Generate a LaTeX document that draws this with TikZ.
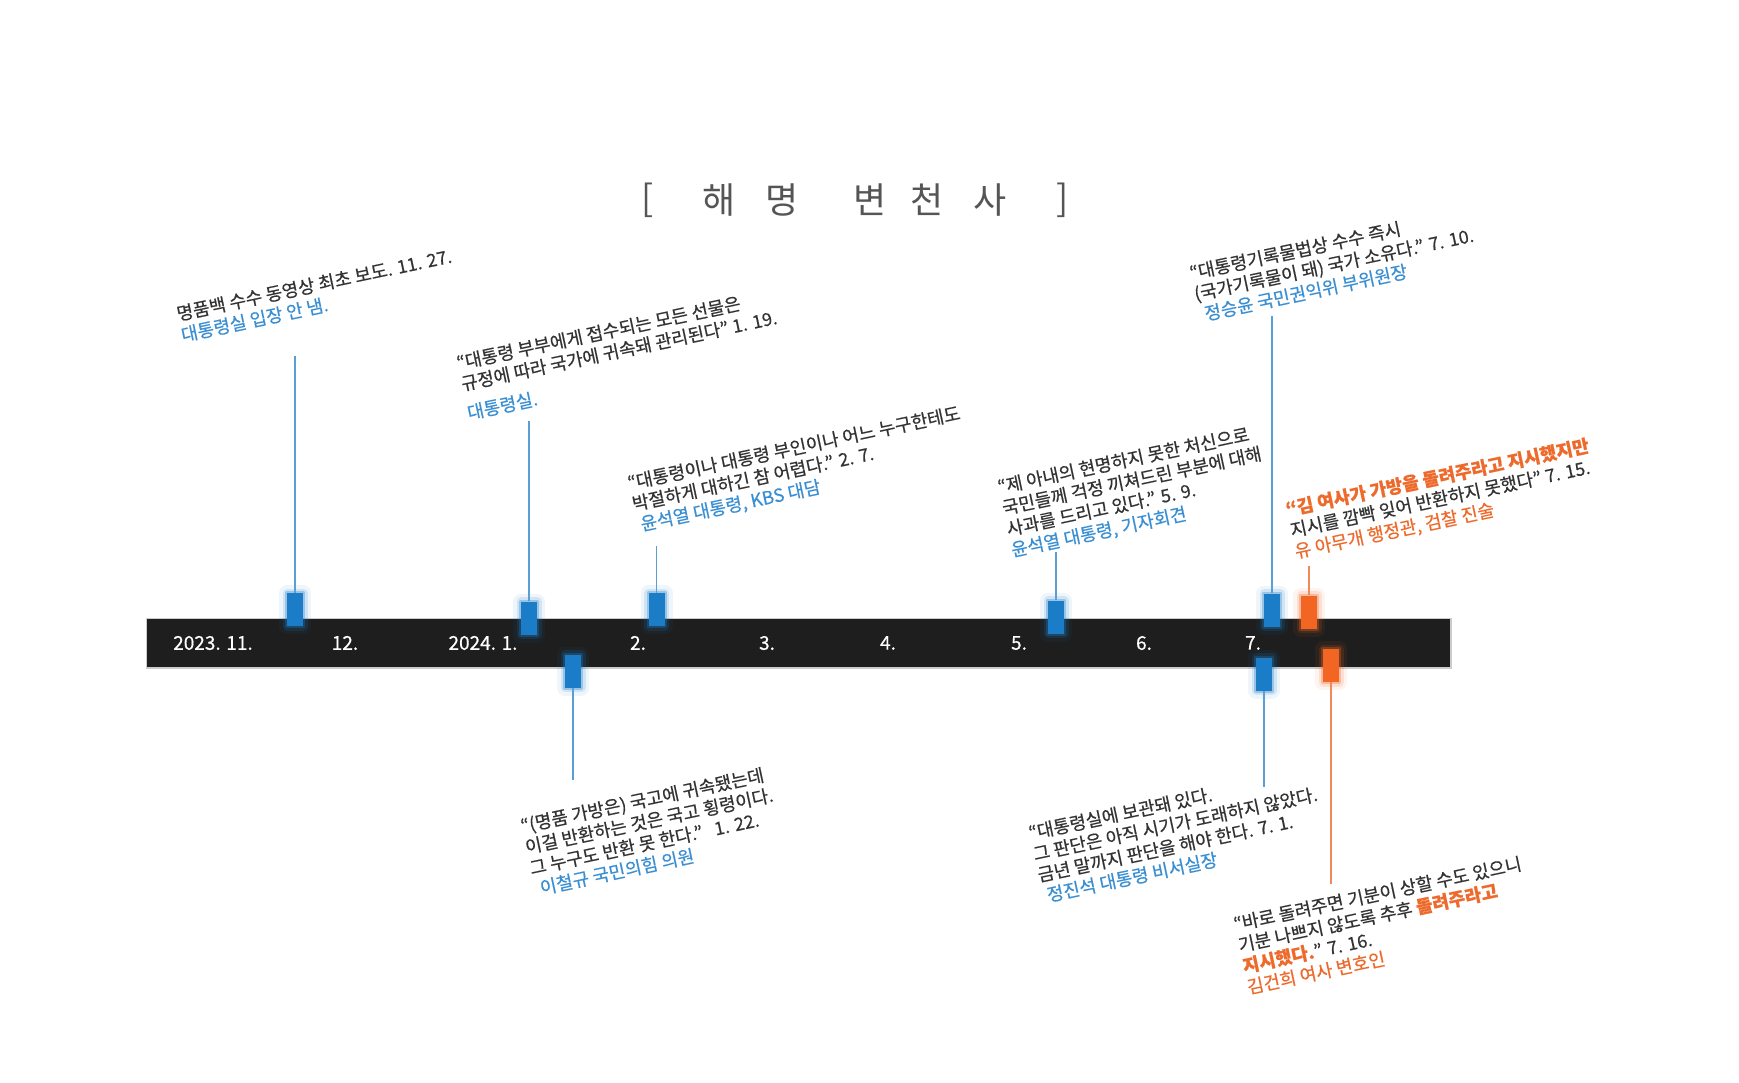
\documentclass[tikz,border=0pt]{standalone}
\usepackage{fontspec}
\setmainfont{Noto Sans CJK KR}
\newfontfamily\medfont{Noto Sans CJK KR}[FakeBold=0.5]
\usetikzlibrary{calc}

\definecolor{ink}{HTML}{333333}
\definecolor{titlegray}{HTML}{555555}
\definecolor{mblue}{HTML}{1B7DC7}
\definecolor{sblue}{HTML}{5A9ED6}
\definecolor{tblue}{HTML}{3A8FD2}
\definecolor{morange}{HTML}{F26522}
\definecolor{sorange}{HTML}{F08A5A}
\definecolor{torange}{HTML}{EE6A2C}
\definecolor{barblack}{HTML}{1E1E1E}

\newcommand{\hot}[1]{\textcolor{torange}{\bfseries #1}}

\begin{document}
\begin{tikzpicture}[x=1pt,y=-1pt,
  quote/.style={anchor=north west, rotate=12, inner sep=0pt, align=left, text=ink,
    font=\medfont\fontsize{18}{21.5}\selectfont},
  month/.style={text=white, inner sep=0pt, font=\medfont\fontsize{19}{21}\selectfont},
  head/.style={text=titlegray, inner sep=0pt, font=\fontsize{36}{40}\selectfont},
  tick/.style={rectangle, minimum width=16pt, minimum height=33pt, inner sep=0pt,
    fill=#1, line join=round,
    preaction={draw=#1, line width=16pt, opacity=0.07},
    preaction={draw=#1, line width=9pt, opacity=0.14},
    preaction={draw=#1, line width=4pt, opacity=0.3}},
  stem/.style={draw=#1, line width=1.3pt}]
\useasboundingbox (0,0) rectangle (1739,1082);
\fill[white] (0,0) rectangle (1739,1082);

% title
\foreach \x/\c [count=\i] in {648/[,719/해,782/명,870/변,927/천,990/사,1063/]}
  \node[head] (t\i) at (\x,200) {\c};

% time bar
\fill[barblack, preaction={draw=black!50, line width=3pt, opacity=0.4}] (147,619) rectangle (1450,667);
\foreach \x/\t [count=\i] in {213/2023. 11., 345/12., 483/2024. 1., 638/2., 767/3., 888/4., 1019/5., 1144/6., 1253/7.}
  \node[month] (mo\i) at (\x,643) {\t};

% markers
\node[tick=mblue] (m1) at (295,609.5) {};
\node[tick=mblue] (m2) at (529,618) {};
\node[tick=mblue] (m3) at (573,671) {};
\node[tick=mblue] (m4) at (656.5,609.5) {};
\node[tick=mblue] (m5) at (1056,617) {};
\node[tick=mblue] (m6) at (1272,610) {};
\node[tick=mblue] (m7) at (1264,674) {};
\node[tick=morange] (m8) at (1309,612) {};
\node[tick=morange] (m9) at (1331,665.5) {};

\coordinate (s1) at (295,356);
\coordinate (s2) at (529,421);
\coordinate (s3) at (573,780);
\coordinate (s4) at (656.5,546);
\coordinate (s5) at (1056,552);
\coordinate (s6) at (1272,316);
\coordinate (s7) at (1264,787);
\coordinate (s8) at (1309,566);
\coordinate (s9) at (1331,884);

\draw[stem=sblue] (m1.north) -- (s1);
\draw[stem=sblue] (m2.north) -- (s2);
\draw[stem=sblue] (m3.south) -- (s3);
\draw[stem=sblue] (m4.north) -- (s4);
\draw[stem=sblue] (m5.north) -- (s5);
\draw[stem=sblue] (m6.north) -- (s6);
\draw[stem=sblue] (m7.south) -- (s7);
\draw[stem=sorange] (m8.north) -- (s8);
\draw[stem=sorange] (m9.south) -- (s9);

% quotes
\node[quote] (q1) at (175,306) {명품백 수수 동영상 최초 보도. 11. 27.\\
  \textcolor{tblue}{대통령실 입장 안 냄.}};
\node[quote] (q2) at (455,355) {“대통령 부부에게 접수되는 모든 선물은\\
  규정에 따라 국가에 귀속돼 관리된다” 1. 19.\\[8pt]
  \textcolor{tblue}{대통령실.}};
\node[quote] (q3) at (626,475) {“대통령이나 대통령 부인이나 어느 누구한테도\\
  박절하게 대하긴 참 어렵다.” 2. 7.\\
  \textcolor{tblue}{\hspace{4pt}윤석열 대통령, KBS 대담}};
\node[quote] (q4) at (996,479) {“제 아내의 현명하지 못한 처신으로\\
  국민들께 걱정 끼쳐드린 부분에 대해\\
  사과를 드리고 있다.” 5. 9.\\
  \textcolor{tblue}{윤석열 대통령, 기자회견}};
\node[quote] (q5) at (1188,265) {“대통령기록물법상 수수 즉시\\
  (국가기록물이 돼) 국가 소유다.” 7. 10.\\
  \textcolor{tblue}{\hspace{6pt}정승윤 국민권익위 부위원장}};
\node[quote] (q6) at (1284,501) {\hot{“김 여사가 가방을 돌려주라고 지시했지만}\\
  지시를 깜빡 잊어 반환하지 못했다” 7. 15.\\
  \textcolor{torange}{유 아무개 행정관, 검찰 진술}};
\node[quote] (q7) at (519,818) {“(명품 가방은) 국고에 귀속됐는데\\
  이걸 반환하는 것은 국고 횡령이다.\\
  그 누구도 반환 못 한다.”\ \ \ 1. 22.\\
  \textcolor{tblue}{\hspace{6pt}이철규 국민의힘 의원}};
\node[quote] (q8) at (1027,825) {“대통령실에 보관돼 있다.\\
  그 판단은 아직 시기가 도래하지 않았다.\\
  금년 말까지 판단을 해야 한다. 7. 1.\\
  \textcolor{tblue}{\hspace{5pt}정진석 대통령 비서실장}};
\node[quote] (q9) at (1232,916) {“바로 돌려주면 기분이 상할 수도 있으니\\
  기분 나쁘지 않도록 추후 \hot{돌려주라고}\\
  \hot{지시했다.}” 7. 16.\\
  \textcolor{torange}{김건희 여사 변호인}};
\end{tikzpicture}
\end{document}
